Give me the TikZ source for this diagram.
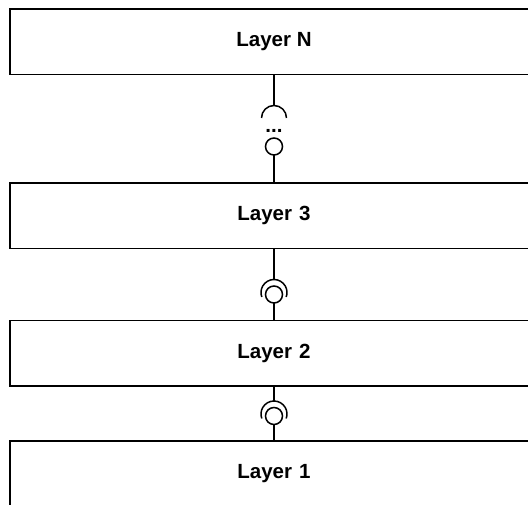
\documentclass[tikz,border=0pt]{standalone}
\usepackage{fontspec}
\setmainfont{Liberation Sans}
\usetikzlibrary{positioning}

\begin{document}
\begin{tikzpicture}[x=1pt, y=1pt, line width=1.5pt,
  layer/.style={draw, minimum width=528pt, minimum height=65.5pt, inner sep=0pt, outer sep=0pt,
    font=\fontsize{20.5}{24}\selectfont\bfseries},
  ball/.style={draw, circle, minimum size=17pt, inner sep=0pt, outer sep=0pt}]
  \useasboundingbox (0,0) rectangle (528,504);
  \node[layer] (N) at (274,462.25) {Layer N};
  \node[layer] (3) [below=108.5pt of N] {Layer\hspace{0.35em}3};
  \node[layer] (2) [below=72pt of 3] {Layer\hspace{0.35em}2};
  \node[layer] (1) [below=55pt of 2] {Layer\hspace{0.35em}1};
  % Layer N -- Layer 3
  \coordinate (sN) at (274,398.5);
  \node[font=\fontsize{20.5}{24}\selectfont\bfseries, anchor=base, inner sep=0pt] (dots) at (274,371.5) {...};
  \node[ball] (b3) at (274,357.5) {};
  \draw (N) -- (sN);
  \draw (sN) arc[start angle=90, end angle=0, radius=12.5pt]
        (sN) arc[start angle=90, end angle=180, radius=12.5pt];
  \draw (b3) -- (3);
  % Layer 3 -- Layer 2
  \coordinate (s2) at (274,224.5);
  \node[ball] (b2) at (274,209.5) {};
  \draw (3) -- (s2);
  \draw (s2) arc[start angle=90, end angle=-20, radius=13pt]
        (s2) arc[start angle=90, end angle=200, radius=13pt];
  \draw (b2) -- (2);
  % Layer 2 -- Layer 1
  \coordinate (s1) at (274,103);
  \node[ball] (b1) at (274,88) {};
  \draw (2) -- (s1);
  \draw (s1) arc[start angle=90, end angle=-20, radius=13pt]
        (s1) arc[start angle=90, end angle=200, radius=13pt];
  \draw (b1) -- (1);
\end{tikzpicture}
\end{document}
